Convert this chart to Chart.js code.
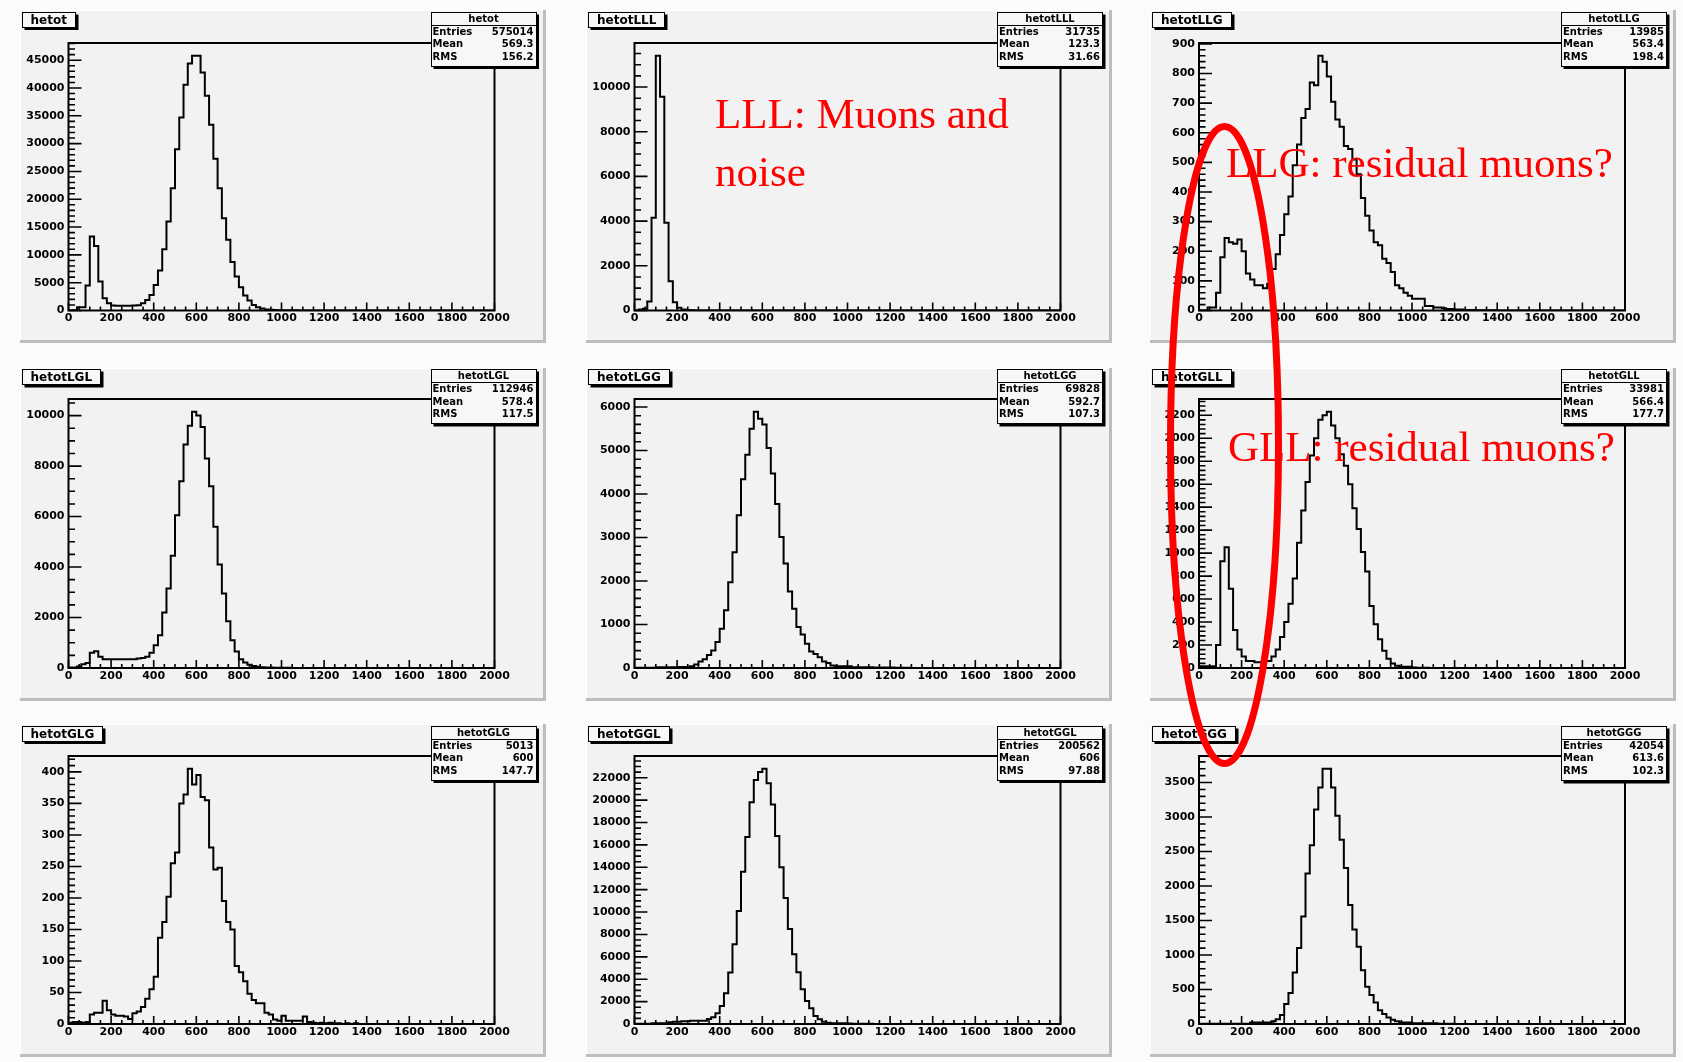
<!DOCTYPE html>
<html>
<head>
<meta charset="utf-8">
<script src="https://cdn.jsdelivr.net/npm/chart.js@4.4.1/dist/chart.umd.min.js"></script>
<style>
  html, body { margin: 0; padding: 0; }
  body { width: 1683px; height: 1062px; background: #fbfbfb; position: relative; overflow: hidden; }
  .pad { position: absolute; width: 526px; height: 333px; background: #f2f2f2;
         box-shadow: inset -3px -3px 0 #bdbdbd, inset 1px 1px 0 #ffffff; }
  .pad canvas { position: absolute; left: 0; top: 0; }
  .title { position: absolute; left: 2px; top: 1.5px; height: 14px; line-height: 14px; padding: 0 8px;
           border: 1.5px solid #000; background: #f7f7f7; box-shadow: 2.5px 2.5px 0 #000;
           font: bold 12px "DejaVu Sans", sans-serif; color: #000; white-space: nowrap; }
  .stats { position: absolute; left: 411px; top: 1.5px; width: 106px; height: 55px; box-sizing: border-box;
           border: 1.5px solid #000; background: #f7f7f7; box-shadow: 2.5px 2.5px 0 #000;
           font: bold 10px "DejaVu Sans", sans-serif; color: #000; }
  .stats .hd { text-align: center; height: 12px; line-height: 12px; border-bottom: 1.5px solid #000; }
  .stats .row { display: flex; justify-content: space-between; height: 12.7px; line-height: 12.7px; padding: 0 2px 0 1px; }
  svg.notes { position: absolute; left: 0; top: 0; pointer-events: none; }
</style>
</head>
<body>
<svg class="notes" width="1683" height="1062" style="z-index:10">
  <text x="715" y="128" font-family="Liberation Serif, serif" font-size="43" fill="#ff0000">LLL: Muons and</text>
  <text x="715" y="186" font-family="Liberation Serif, serif" font-size="43" fill="#ff0000">noise</text>
  <text x="1226" y="176.5" font-family="Liberation Serif, serif" font-size="43" fill="#ff0000">LLG: residual muons?</text>
  <text x="1228" y="461" font-family="Liberation Serif, serif" font-size="43" fill="#ff0000">GLL: residual muons?</text>
  <ellipse cx="1224.5" cy="445" rx="54" ry="318.5" fill="none" stroke="#ff0000" stroke-width="7"/>
</svg>
<script>
// Histogram binning: 100 bins of width 20 from 0 to 2000
const X_MIN = 0, X_MAX = 2000, BIN_WIDTH = 20;
const xTickLabels = [0, 200, 400, 600, 800, 1000, 1200, 1400, 1600, 1800, 2000];
const X_MINOR = 50;

const histNames = ['hetot', 'hetotLLL', 'hetotLLG', 'hetotLGL', 'hetotLGG', 'hetotGLL', 'hetotGLG', 'hetotGGL', 'hetotGGG'];
const statEntries = ['575014', '31735', '13985', '112946', '69828', '33981', '5013', '200562', '42054'];
const statMean = ['569.3', '123.3', '563.4', '578.4', '592.7', '566.4', '600', '606', '613.6'];
const statRms = ['156.2', '31.66', '198.4', '117.5', '107.3', '177.7', '147.7', '97.88', '102.3'];

// y axis: labelled step and minor tick step for each histogram
const yLabelStep = [5000, 2000, 100, 2000, 1000, 200, 50, 2000, 500];
const yMinorStep = [1000, 500, 20, 500, 200, 40, 10, 500, 100];

// bin contents
const hetot = [
  0, 50, 600, 600, 4500, 13300, 11600, 5200, 2200, 1300,
  900, 850, 850, 850, 850, 900, 950, 1300, 1900, 2800,
  4600, 7200, 11000, 16000, 22000, 29000, 34700, 40600, 44400, 45800,
  45800, 42800, 38600, 33400, 27300, 22000, 16600, 12700, 8700, 6100,
  4200, 2700, 1800, 1000, 600, 350, 200, 120, 80, 60,
  50, 40, 30, 25, 20, 15, 12, 10, 8, 6,
  5, 5, 4, 4, 3, 3, 3, 2, 2, 2,
  2, 1, 1, 1, 1, 1, 1, 1, 1, 0,
  0, 0, 0, 0, 0, 0, 0, 0, 0, 0,
  0, 0, 0, 0, 0, 0, 0, 0, 0, 0];
const hetotLLL = [
  0, 50, 80, 400, 4150, 11400, 9570, 3930, 1310, 370,
  120, 40, 20, 10, 5, 3, 2, 1, 0, 0,
  0, 0, 0, 0, 0, 0, 0, 0, 0, 0,
  0, 0, 0, 0, 0, 0, 0, 0, 0, 0,
  0, 0, 0, 0, 0, 0, 0, 0, 0, 0,
  0, 0, 0, 0, 0, 0, 0, 0, 0, 0,
  0, 0, 0, 0, 0, 0, 0, 0, 0, 0,
  0, 0, 0, 0, 0, 0, 0, 0, 0, 0,
  0, 0, 0, 0, 0, 0, 0, 0, 0, 0,
  0, 0, 0, 0, 0, 0, 0, 0, 0, 0];
const hetotLLG = [
  0, 0, 10, 10, 60, 180, 245, 230, 225, 240,
  200, 125, 105, 85, 85, 75, 90, 140, 190, 255,
  325, 385, 490, 560, 650, 680, 770, 760, 860, 840,
  790, 705, 645, 620, 555, 545, 510, 460, 380, 320,
  270, 230, 220, 175, 160, 130, 85, 75, 60, 50,
  40, 40, 40, 15, 15, 10, 10, 8, 5, 5,
  3, 3, 2, 2, 2, 1, 1, 1, 1, 1,
  0, 0, 0, 0, 0, 0, 0, 0, 0, 0,
  0, 0, 0, 0, 0, 0, 0, 0, 0, 0,
  0, 0, 0, 0, 0, 0, 0, 0, 0, 0];
const hetotLGL = [
  20, 20, 60, 150, 200, 600, 660, 450, 350, 350,
  350, 350, 350, 350, 350, 350, 380, 400, 450, 600,
  900, 1300, 2200, 3150, 4450, 6050, 7400, 8850, 9600, 10150,
  10000, 9550, 8300, 7200, 5600, 4100, 2950, 1850, 1100, 650,
  350, 220, 130, 80, 50, 30, 20, 15, 10, 8,
  6, 5, 4, 3, 3, 2, 2, 2, 1, 1,
  1, 1, 1, 0, 0, 0, 0, 0, 0, 0,
  0, 0, 0, 0, 0, 0, 0, 0, 0, 0,
  0, 0, 0, 0, 0, 0, 0, 0, 0, 0,
  0, 0, 0, 0, 0, 0, 0, 0, 0, 0];
const hetotLGG = [
  5, 5, 5, 5, 5, 15, 15, 15, 15, 15,
  25, 25, 25, 40, 80, 150, 200, 300, 400, 600,
  900, 1330, 1970, 2660, 3510, 4340, 4900, 5500, 5890, 5730,
  5600, 5060, 4470, 3770, 3010, 2400, 1760, 1360, 940, 770,
  560, 380, 320, 250, 150, 115, 60, 40, 40, 40,
  40, 20, 20, 20, 20, 20, 10, 10, 10, 10,
  10, 5, 5, 3, 3, 2, 2, 1, 1, 1,
  0, 0, 0, 0, 0, 0, 0, 0, 0, 0,
  0, 0, 0, 0, 0, 0, 0, 0, 0, 0,
  0, 0, 0, 0, 0, 0, 0, 0, 0, 0];
const hetotGLL = [
  15, 15, 15, 15, 200, 930, 1050, 690, 330, 160,
  100, 60, 60, 50, 50, 60, 60, 100, 160, 270,
  400, 560, 780, 1090, 1370, 1620, 1850, 2000, 2160, 2200,
  2230, 2110, 2000, 1860, 1760, 1600, 1390, 1210, 1010, 840,
  540, 380, 250, 150, 80, 40, 20, 10, 10, 10,
  5, 3, 2, 2, 1, 1, 1, 0, 0, 0,
  0, 0, 0, 0, 0, 0, 0, 0, 0, 0,
  0, 0, 0, 0, 0, 0, 0, 0, 0, 0,
  0, 0, 0, 0, 0, 0, 0, 0, 0, 0,
  0, 0, 0, 0, 0, 0, 0, 0, 0, 0];
const hetotGLG = [
  2, 3, 3, 2, 3, 15, 18, 18, 37, 22,
  15, 13, 13, 12, 8, 17, 20, 27, 40, 55,
  75, 137, 162, 202, 255, 272, 350, 364, 405, 380,
  395, 360, 355, 280, 245, 248, 195, 162, 150, 92,
  82, 68, 48, 38, 33, 33, 18, 15, 7, 5,
  13, 5, 5, 5, 5, 12, 3, 2, 1, 2,
  1, 2, 1, 1, 0, 1, 0, 1, 0, 0,
  0, 0, 0, 0, 0, 0, 0, 0, 0, 0,
  0, 0, 0, 0, 0, 0, 0, 0, 0, 0,
  0, 0, 0, 0, 0, 0, 0, 0, 0, 0];
const hetotGGL = [
  30, 30, 30, 30, 60, 60, 60, 60, 150, 200,
  200, 250, 250, 300, 300, 300, 300, 450, 600, 960,
  1600, 2750, 4600, 7130, 10100, 13600, 16700, 19800, 21800, 22500,
  22800, 21500, 19600, 16800, 14000, 11250, 8480, 6240, 4630, 3100,
  2060, 1400, 716, 420, 210, 120, 60, 60, 60, 60,
  40, 30, 20, 20, 20, 15, 10, 10, 5, 5,
  5, 3, 3, 2, 2, 1, 1, 1, 0, 0,
  0, 0, 0, 0, 0, 0, 0, 0, 0, 0,
  0, 0, 0, 0, 0, 0, 0, 0, 0, 0,
  0, 0, 0, 0, 0, 0, 0, 0, 0, 0];
const hetotGGG = [
  2, 2, 2, 2, 2, 2, 2, 2, 2, 2,
  2, 2, 20, 20, 20, 20, 20, 40, 70, 130,
  290, 450, 745, 1100, 1560, 2180, 2590, 3110, 3430, 3700,
  3700, 3430, 3020, 2670, 2260, 1725, 1370, 1120, 780, 540,
  420, 310, 200, 145, 95, 60, 40, 20, 20, 20,
  10, 10, 10, 10, 10, 10, 5, 3, 2, 2,
  1, 1, 1, 0, 0, 0, 0, 0, 0, 0,
  0, 0, 0, 0, 0, 0, 0, 0, 0, 0,
  0, 0, 0, 0, 0, 0, 0, 0, 0, 0,
  0, 0, 0, 0, 0, 0, 0, 0, 0, 0];
const histCounts = [hetot, hetotLLL, hetotLLG, hetotLGL, hetotLGG, hetotGLL, hetotGLG, hetotGGL, hetotGGG];

// pad grid geometry (page pixels)
const PAD_W = 526, PAD_H = 333;
const padLeft = [19.5, 586, 1150];
const padTop = [10, 367.5, 724];
const plotLeft = [68, 634.5, 1199];
const plotRight = [494, 1060.5, 1625];
const plotTop = [43, 398.5, 756];
const plotBottom = [310.5, 667.5, 1024];

// frame, inward tick marks and bold tick labels in the style of a ROOT canvas
const rootAxes = {
  id: 'rootAxes',
  afterDatasetsDraw(chart, args, opts) {
    const { ctx, chartArea: a, scales: { x, y } } = chart;
    ctx.save();
    ctx.strokeStyle = '#000';
    ctx.fillStyle = '#000';
    ctx.lineWidth = 1.6;
    ctx.beginPath();
    const perLabel = Math.round(opts.major / opts.minor);
    for (let k = 0; k * opts.minor <= y.max; k++) {
      const py = y.getPixelForValue(k * opts.minor);
      const len = (k % perLabel === 0) ? 13 : 6.5;
      ctx.moveTo(a.left, py);
      ctx.lineTo(a.left + len, py);
    }
    for (let v = X_MIN; v <= X_MAX; v += X_MINOR) {
      const px = x.getPixelForValue(v);
      const len = (v % 200 === 0) ? 8 : 4;
      ctx.moveTo(px, a.bottom);
      ctx.lineTo(px, a.bottom - len);
    }
    ctx.stroke();
    ctx.lineWidth = 2;
    ctx.strokeRect(a.left, a.top, a.right - a.left, a.bottom - a.top);

    ctx.font = 'bold 11px "DejaVu Sans", sans-serif';
    ctx.textAlign = 'right';
    ctx.textBaseline = 'middle';
    for (let k = 0; k * opts.major <= y.max; k++) {
      const v = k * opts.major;
      ctx.fillText(String(v), a.left - 4, y.getPixelForValue(v));
    }
    ctx.textAlign = 'center';
    ctx.textBaseline = 'top';
    xTickLabels.forEach(v => ctx.fillText(String(v), x.getPixelForValue(v), a.bottom + 2.5));
    ctx.restore();
  }
};

histNames.forEach((name, idx) => {
  const col = idx % 3, row = Math.floor(idx / 3);
  const pad = document.createElement('div');
  pad.className = 'pad';
  pad.style.left = padLeft[col] + 'px';
  pad.style.top = padTop[row] + 'px';
  document.body.appendChild(pad);

  const canvas = document.createElement('canvas');
  canvas.width = PAD_W;
  canvas.height = PAD_H;
  pad.appendChild(canvas);

  const title = document.createElement('div');
  title.className = 'title';
  title.textContent = name;
  pad.appendChild(title);

  const stats = document.createElement('div');
  stats.className = 'stats';
  stats.innerHTML =
    '<div class="hd">' + name + '</div>' +
    '<div class="row"><span>Entries</span><span>' + statEntries[idx] + '</span></div>' +
    '<div class="row"><span>Mean</span><span>' + statMean[idx] + '</span></div>' +
    '<div class="row"><span>RMS</span><span>' + statRms[idx] + '</span></div>';
  pad.appendChild(stats);

  const counts = histCounts[idx];
  const pts = counts.map((c, i) => ({ x: X_MIN + i * BIN_WIDTH, y: c }));
  pts.push({ x: X_MAX, y: counts[counts.length - 1] });
  const yMax = Math.max(...counts) * 1.05;

  new Chart(canvas, {
    type: 'line',
    data: {
      datasets: [{
        data: pts,
        borderColor: '#000000',
        borderWidth: 2,
        pointRadius: 0,
        stepped: 'before',
        fill: false,
        tension: 0,
        borderJoinStyle: 'miter'
      }]
    },
    options: {
      responsive: false,
      animation: false,
      devicePixelRatio: 1,
      events: [],
      layout: {
        padding: {
          left: plotLeft[col] - padLeft[col],
          right: padLeft[col] + PAD_W - plotRight[col],
          top: plotTop[row] - padTop[row],
          bottom: padTop[row] + PAD_H - plotBottom[row]
        }
      },
      plugins: {
        legend: { display: false },
        tooltip: { enabled: false },
        rootAxes: { major: yLabelStep[idx], minor: yMinorStep[idx] }
      },
      scales: {
        x: { type: 'linear', min: X_MIN, max: X_MAX, display: false },
        y: { type: 'linear', min: 0, max: yMax, display: false }
      }
    },
    plugins: [rootAxes]
  });
});
</script>
</body>
</html>
